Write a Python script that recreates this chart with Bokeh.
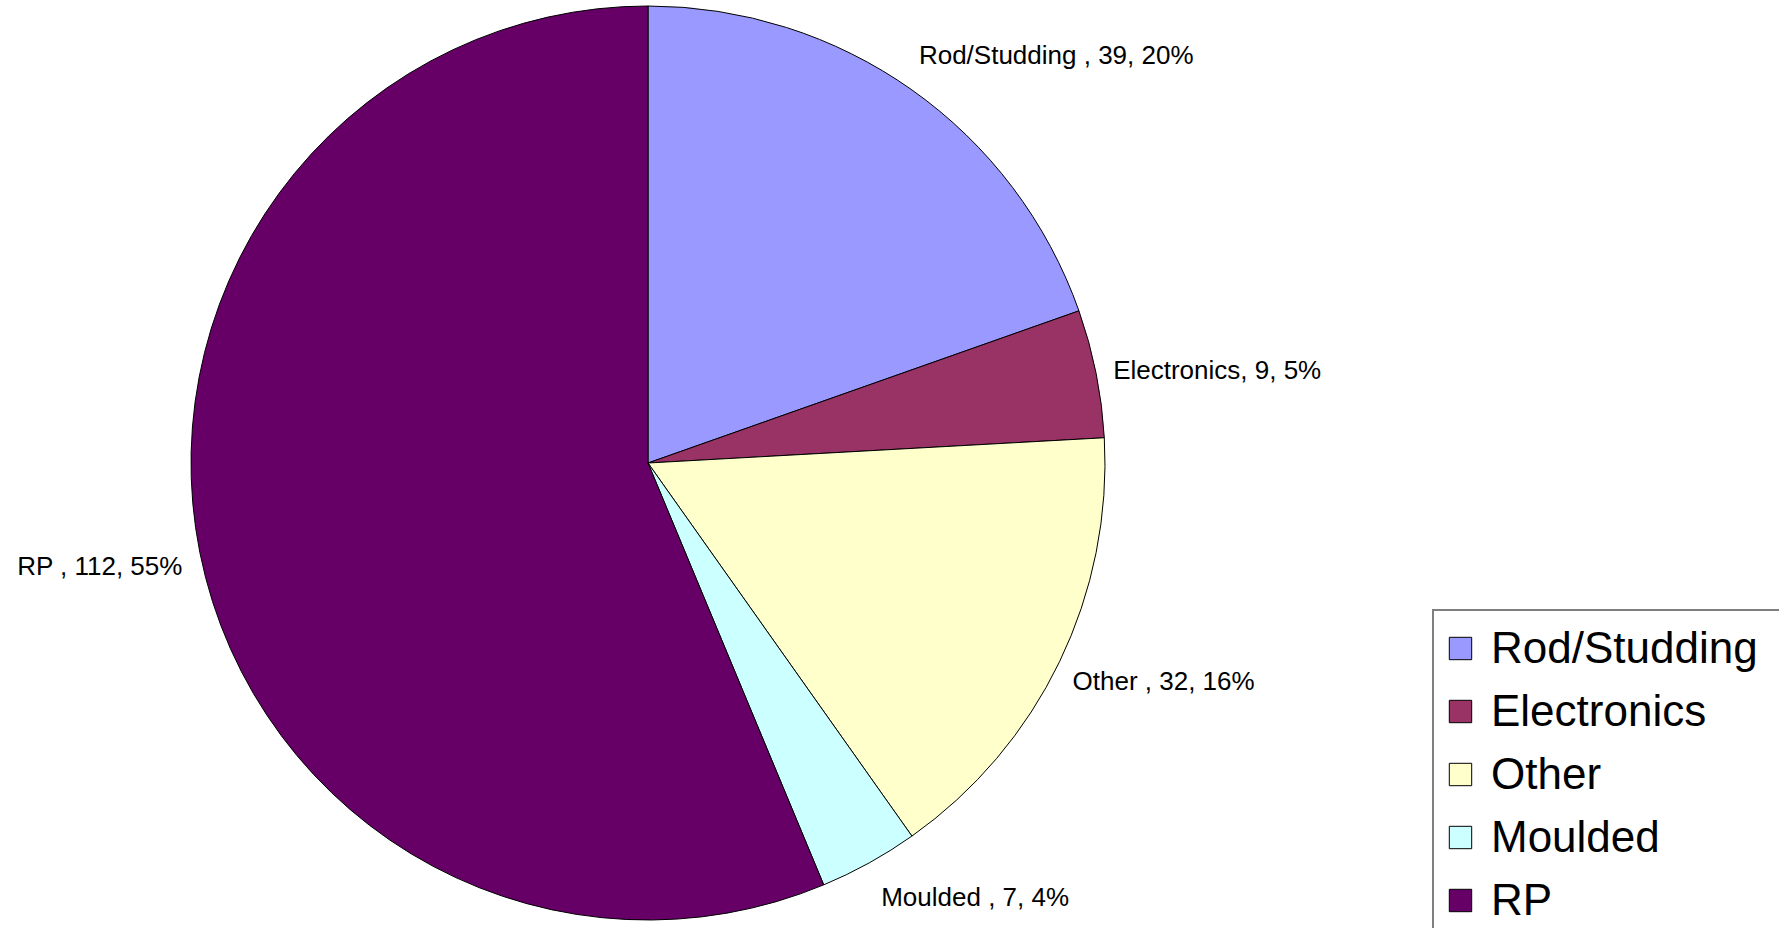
import numpy as np
from bokeh.plotting import figure
from bokeh.models import Range1d, ColumnDataSource, Legend, LegendItem
from bokeh.core.properties import value
from bokeh.embed import file_html
from bokeh.resources import INLINE

# ---- data ----
categories = ["Rod/Studding", "Electronics", "Other", "Moulded", "RP"]
counts = [39, 9, 32, 7, 112]
percents = [20, 5, 16, 4, 55]
label_sep = [" ", "", " ", " ", " "]
colors = ["#9999FF", "#993366", "#FFFFCC", "#CCFFFF", "#660066"]

labels = [f"{c}{s}, {v}, {p}%" for c, s, v, p in zip(categories, label_sep, counts, percents)]

# ---- geometry (data y = 928 - screen y, screen measured from picture corner) ----
W, H = 1779, 928
CX, CY, R = 647.5, 928 - 462.5, 457

vals = np.array(counts, dtype=float)
total = vals.sum()
cum_after = np.cumsum(vals)
cum_before = cum_after - vals
start = np.pi / 2 - 2 * np.pi * cum_after / total
end = np.pi / 2 - 2 * np.pi * cum_before / total
mid = np.pi / 2 - 2 * np.pi * (cum_before + vals / 2) / total

p = figure(width=W, height=H, output_backend="svg", toolbar_location=None,
           x_range=Range1d(0, W), y_range=Range1d(928 - H, 928),
           min_border=0, outline_line_color=None)
p.axis.visible = False
p.xgrid.visible = False
p.ygrid.visible = False
p.background_fill_color = "white"
p.border_fill_color = "white"

renderers = []
for i in range(len(categories)):
    r = p.wedge(x=CX, y=CY, radius=R, start_angle=start[i], end_angle=end[i],
                fill_color=colors[i], line_color="black", line_width=1)
    renderers.append(r)

# data labels placed at mid-angle on the rim with small nudges
nudge_x = [7, 17, 13, 12, -17]
nudge_y = [35, 3, -19, -34, -13]
lx = CX + R * np.cos(mid) + np.array(nudge_x)
ly = CY + R * np.sin(mid) + np.array(nudge_y)
align = ["left" if np.cos(m) >= 0 else "right" for m in mid]
src = ColumnDataSource(dict(x=lx, y=ly, text=labels, align=align))
p.text(x="x", y="y", text="text", source=src, text_align="align",
       text_baseline="middle", text_font=value("Liberation Sans"),
       text_font_size="26px", text_color="black")

legend = Legend(items=[LegendItem(label=categories[i], renderers=[renderers[i]])
                       for i in range(len(categories))],
                location=(1432, -11),
                label_text_font="Liberation Sans",
                label_text_font_size="44px",
                label_text_color="black",
                glyph_width=28, glyph_height=28,
                label_standoff=17, label_height=50, label_width=276,
                spacing=13, padding=12, margin=0,
                border_line_color="black", border_line_width=2,
                background_fill_color="white", background_fill_alpha=1.0)
p.add_layout(legend)

open("out.html", "w").write(file_html(p, INLINE))
